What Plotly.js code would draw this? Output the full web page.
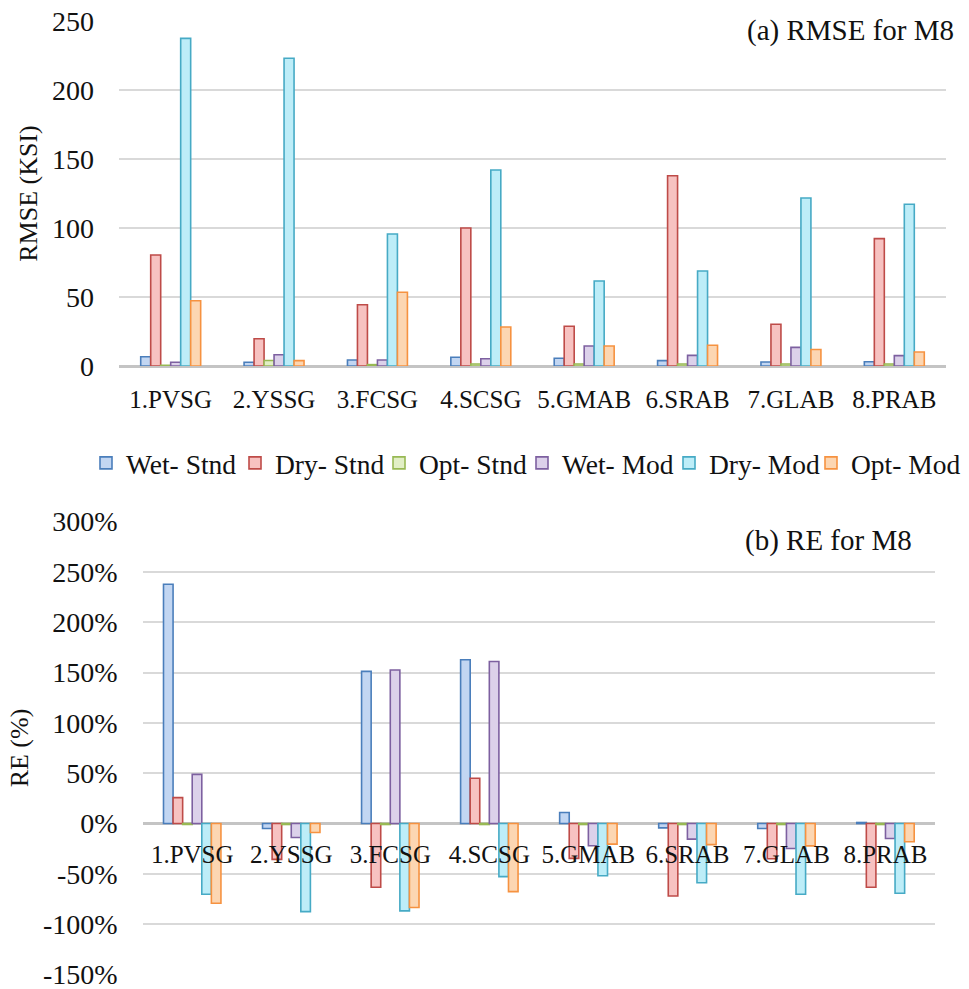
<!DOCTYPE html>
<html>
<head>
<meta charset="utf-8">
<script src="https://cdn.plot.ly/plotly-3.0.1.min.js"></script>
<style>html,body{margin:0;padding:0;background:#fff;}#chart{width:969px;height:989px;}</style>
</head>
<body>
<div id="chart"></div>
<script>
var categories = ["1.PVSG","2.YSSG","3.FCSG","4.SCSG","5.GMAB","6.SRAB","7.GLAB","8.PRAB"];
var seriesNames = ["Wet- Stnd","Dry- Stnd","Opt- Stnd","Wet- Mod","Dry- Mod","Opt- Mod"];

// (a) RMSE (KSI)
var rmseWetStnd = [6.7, 2.7, 4.3, 6.3, 5.6, 3.9, 2.9, 3.1];
var rmseDryStnd = [80.4, 19.8, 44.4, 100, 28.8, 137.9, 30.2, 92.3];
var rmseOptStnd = [0.5, 4.0, 1.0, 1.5, 1.5, 1.5, 1.5, 1.5];
var rmseWetMod  = [2.7, 8.2, 4.3, 5.3, 14.5, 7.7, 13.5, 7.5];
var rmseDryMod  = [237.4, 223, 95.7, 142, 61.6, 68.8, 121.7, 117.2];
var rmseOptMod  = [47.3, 3.9, 53.4, 28.3, 14.5, 15, 12, 10.1];

// (b) RE (%)
var reWetStnd = [237.6, -5, 151.1, 162.7, 10.9, -4.3, -5, 1];
var reDryStnd = [25.7, -35.6, -63.4, 44.9, -34.6, -72, -35, -63.4];
var reOptStnd = [-1, -1, -1, -1, -1, -1, -1, -1];
var reWetMod  = [48.8, -13.9, 152.5, 161, -22.1, -15.5, -24.8, -14.9];
var reDryMod  = [-70.3, -87.5, -86.8, -52.8, -51.9, -58.8, -70.3, -69.3];
var reOptMod  = [-79.2, -8.9, -83.5, -67.7, -20.5, -21, -22.2, -18.2];

var rmseTickVals = [0, 50, 100, 150, 200, 250];
var reTickVals = [-150, -100, -50, 0, 50, 100, 150, 200, 250, 300];
var reTickText = ["-150%","-100%","-50%","0%","50%","100%","150%","200%","250%","300%"];

var fills = ["#c2d6f2","#f7c2c1","#e2efc6","#dcd1ea","#bdedf8","#fcd6b2"];
var lines = ["#4a7ebb","#be4b48","#98b954","#7d60a0","#46aac5","#f69240"];

var rmseData = [rmseWetStnd, rmseDryStnd, rmseOptStnd, rmseWetMod, rmseDryMod, rmseOptMod];
var reData = [reWetStnd, reDryStnd, reOptStnd, reWetMod, reDryMod, reOptMod];

var legendIds = ["legend","legend2","legend3","legend4","legend5","legend6"];
var legendX = [86, 235, 379, 522, 669, 811];

var traces = [];
for (var i = 0; i < seriesNames.length; i++) {
  traces.push({
    type: "bar", name: seriesNames[i], x: categories, y: rmseData[i],
    xaxis: "x", yaxis: "y", legendgroup: seriesNames[i], legend: legendIds[i],
    marker: {color: fills[i], line: {color: lines[i], width: 1.6}}
  });
}
for (var j = 0; j < seriesNames.length; j++) {
  traces.push({
    type: "bar", name: seriesNames[j], x: categories, y: reData[j],
    xaxis: "x2", yaxis: "y2", legendgroup: seriesNames[j], showlegend: false,
    marker: {color: fills[j], line: {color: lines[j], width: 1.6}}
  });
}

var W = 969, H = 989;
var FONT = "Liberation Serif, Times New Roman, serif";
var tf = {family: FONT, size: 26, color: "#111"};
var yf = {family: FONT, size: 28, color: "#111"};
var cf = {family: FONT, size: 25, color: "#111"};
var af = {family: FONT, size: 29, color: "#111"};
var lf = {family: FONT, size: 27.5, color: "#111"};

var layout = {
  width: W, height: H,
  margin: {l: 0, r: 0, t: 0, b: 0},
  paper_bgcolor: "#fff", plot_bgcolor: "#fff",
  barmode: "group", bargap: 0.42, bargroupgap: 0,
  font: tf,
  showlegend: true,
  xaxis: {domain: [119/W, 946/W], anchor: "y", type: "category",
          showgrid: false, zeroline: false, showline: false, ticks: "",
          ticklabelstandoff: 16, tickfont: cf},
  yaxis: {domain: [1 - 366/H, 1 - 21/H], anchor: "x", range: [0, 250],
          tickvals: rmseTickVals, showgrid: true, gridcolor: "#d9d9d9", gridwidth: 2,
          zeroline: true, zerolinecolor: "#c4c4c4", zerolinewidth: 3,
          ticks: "", ticklabelstandoff: 24, tickfont: yf, ticklabeloverflow: "allow",
          title: {text: "RMSE (KSI)", font: tf, standoff: 6}},
  xaxis2: {domain: [142.7/W, 935/W], anchor: "free", position: 1 - 823.3/H, type: "category",
           showgrid: false, zeroline: false, showline: false, ticks: "",
           ticklabelstandoff: 14, tickfont: cf},
  yaxis2: {domain: [1 - 975/H, 1 - 521/H], anchor: "x2", range: [-150.5, 300.5],
           tickvals: reTickVals, ticktext: reTickText,
           showgrid: true, gridcolor: "#d9d9d9", gridwidth: 2,
           zeroline: true, zerolinecolor: "#c4c4c4", zerolinewidth: 3,
           ticks: "", ticklabelstandoff: 24, tickfont: yf, ticklabeloverflow: "allow",
           title: {text: "RE (%)", font: tf, standoff: 6}},
  annotations: [
    {text: "(a) RMSE for M8", xref: "paper", yref: "paper", x: 956/W, y: 1 - 30/H,
     xanchor: "right", yanchor: "middle", showarrow: false, font: af},
    {text: "(b) RE for M8", xref: "paper", yref: "paper", x: 914/W, y: 1 - 540/H,
     xanchor: "right", yanchor: "middle", showarrow: false, font: af}
  ]
};
for (var k = 0; k < legendIds.length; k++) {
  layout[legendIds[k]] = {orientation: "h", x: legendX[k]/W, xanchor: "left",
    y: 1 - 463/H, yanchor: "middle", font: lf, itemwidth: 30, bgcolor: "rgba(0,0,0,0)"};
}

Plotly.newPlot("chart", traces, layout, {staticPlot: true, displayModeBar: false});
</script>
</body>
</html>
